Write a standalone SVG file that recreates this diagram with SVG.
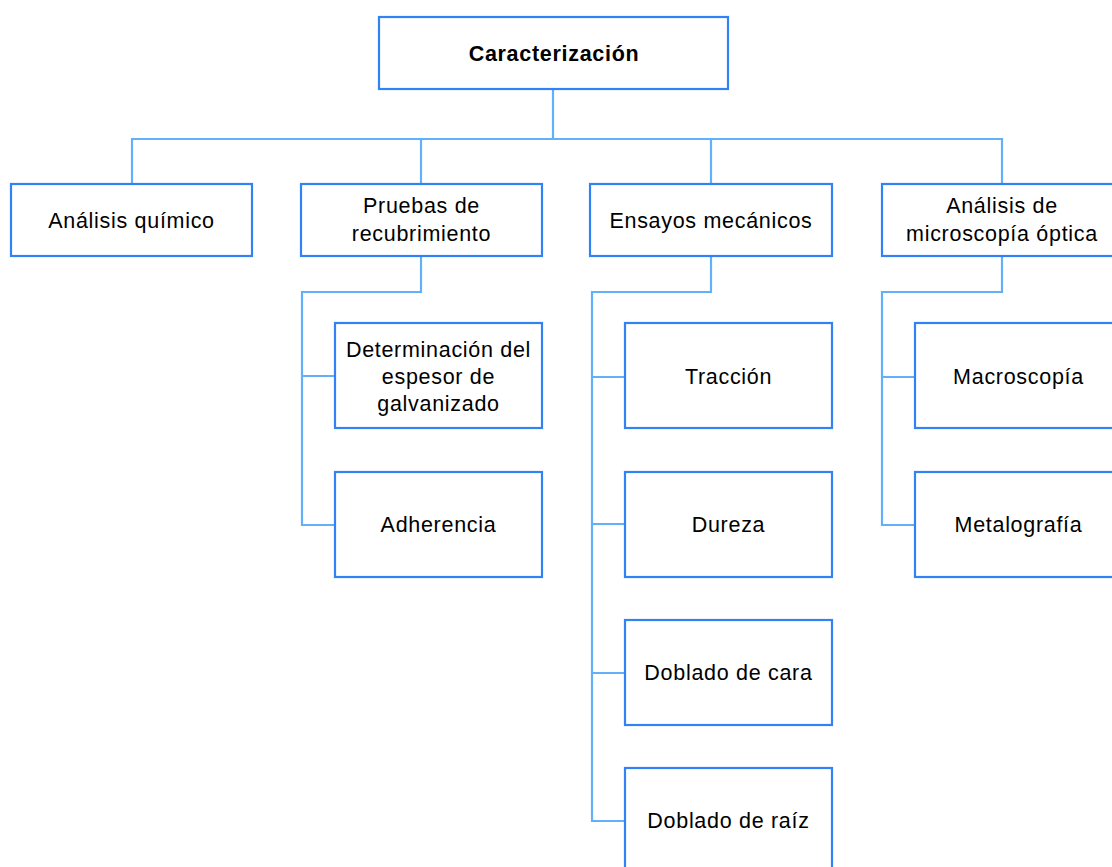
<svg xmlns="http://www.w3.org/2000/svg" width="1112" height="867" viewBox="0 0 1112 867">
  <style>
    .box { fill: #ffffff; stroke: #3182f6; stroke-width: 2.2; }
    .link { fill: none; stroke: #62b0fb; stroke-width: 2.2; stroke-linejoin: miter; }
    .lbl { font-family: "Liberation Sans", Arial, sans-serif; font-size: 21.5px; fill: #000000; text-anchor: middle; letter-spacing: 0.7px; }
    .root { font-weight: bold; }
  </style>
  <rect width="1112" height="867" fill="#ffffff"/>

  <!-- connectors -->
  <g id="connectors" class="link">
    <path d="M553,89 V139"/>
    <path d="M132,184 V139 H1002 V184"/>
    <path d="M421,139 V184"/>
    <path d="M711,139 V184"/>
    <!-- Pruebas de recubrimiento branch -->
    <path d="M421,256 V292 H302 V525 H335"/>
    <path d="M302,376 H335"/>
    <!-- Ensayos mecánicos branch -->
    <path d="M711,256 V292 H592 V821 H625"/>
    <path d="M592,377 H625"/>
    <path d="M592,524 H625"/>
    <path d="M592,673 H625"/>
    <!-- Microscopía branch -->
    <path d="M1002,256 V292 H882 V525 H915"/>
    <path d="M882,377 H915"/>
  </g>

  <!-- root -->
  <g id="caracterizacion">
    <rect class="box" x="379" y="17" width="349" height="72"/>
    <text class="lbl root" x="554" y="61">Caracterización</text>
  </g>

  <!-- level 1 -->
  <g id="analisis-quimico">
    <rect class="box" x="11" y="184" width="241" height="72"/>
    <text class="lbl" x="131.5" y="228">Análisis químico</text>
  </g>
  <g id="pruebas-recubrimiento">
    <rect class="box" x="301" y="184" width="241" height="72"/>
    <text class="lbl" x="421.5" y="213">Pruebas de</text>
    <text class="lbl" x="421.5" y="241">recubrimiento</text>
  </g>
  <g id="ensayos-mecanicos">
    <rect class="box" x="590" y="184" width="242" height="72"/>
    <text class="lbl" x="711" y="228">Ensayos mecánicos</text>
  </g>
  <g id="analisis-microscopia">
    <rect class="box" x="882" y="184" width="240" height="72"/>
    <text class="lbl" x="1002" y="213">Análisis de</text>
    <text class="lbl" x="1002" y="241">microscopía óptica</text>
  </g>

  <!-- Pruebas de recubrimiento children -->
  <g id="determinacion-espesor">
    <rect class="box" x="335" y="323" width="207" height="105"/>
    <text class="lbl" x="438.5" y="357">Determinación del</text>
    <text class="lbl" x="438.5" y="384">espesor de</text>
    <text class="lbl" x="438.5" y="411">galvanizado</text>
  </g>
  <g id="adherencia">
    <rect class="box" x="335" y="472" width="207" height="105"/>
    <text class="lbl" x="438.5" y="532">Adherencia</text>
  </g>

  <!-- Ensayos mecánicos children -->
  <g id="traccion">
    <rect class="box" x="625" y="323" width="207" height="105"/>
    <text class="lbl" x="728.5" y="384">Tracción</text>
  </g>
  <g id="dureza">
    <rect class="box" x="625" y="472" width="207" height="105"/>
    <text class="lbl" x="728.5" y="532">Dureza</text>
  </g>
  <g id="doblado-cara">
    <rect class="box" x="625" y="620" width="207" height="105"/>
    <text class="lbl" x="728.5" y="680">Doblado de cara</text>
  </g>
  <g id="doblado-raiz">
    <rect class="box" x="625" y="768" width="207" height="105"/>
    <text class="lbl" x="728.5" y="828">Doblado de raíz</text>
  </g>

  <!-- Microscopía children -->
  <g id="macroscopia">
    <rect class="box" x="915" y="323" width="207" height="105"/>
    <text class="lbl" x="1018.5" y="384">Macroscopía</text>
  </g>
  <g id="metalografia">
    <rect class="box" x="915" y="472" width="207" height="105"/>
    <text class="lbl" x="1018.5" y="532">Metalografía</text>
  </g>
</svg>
